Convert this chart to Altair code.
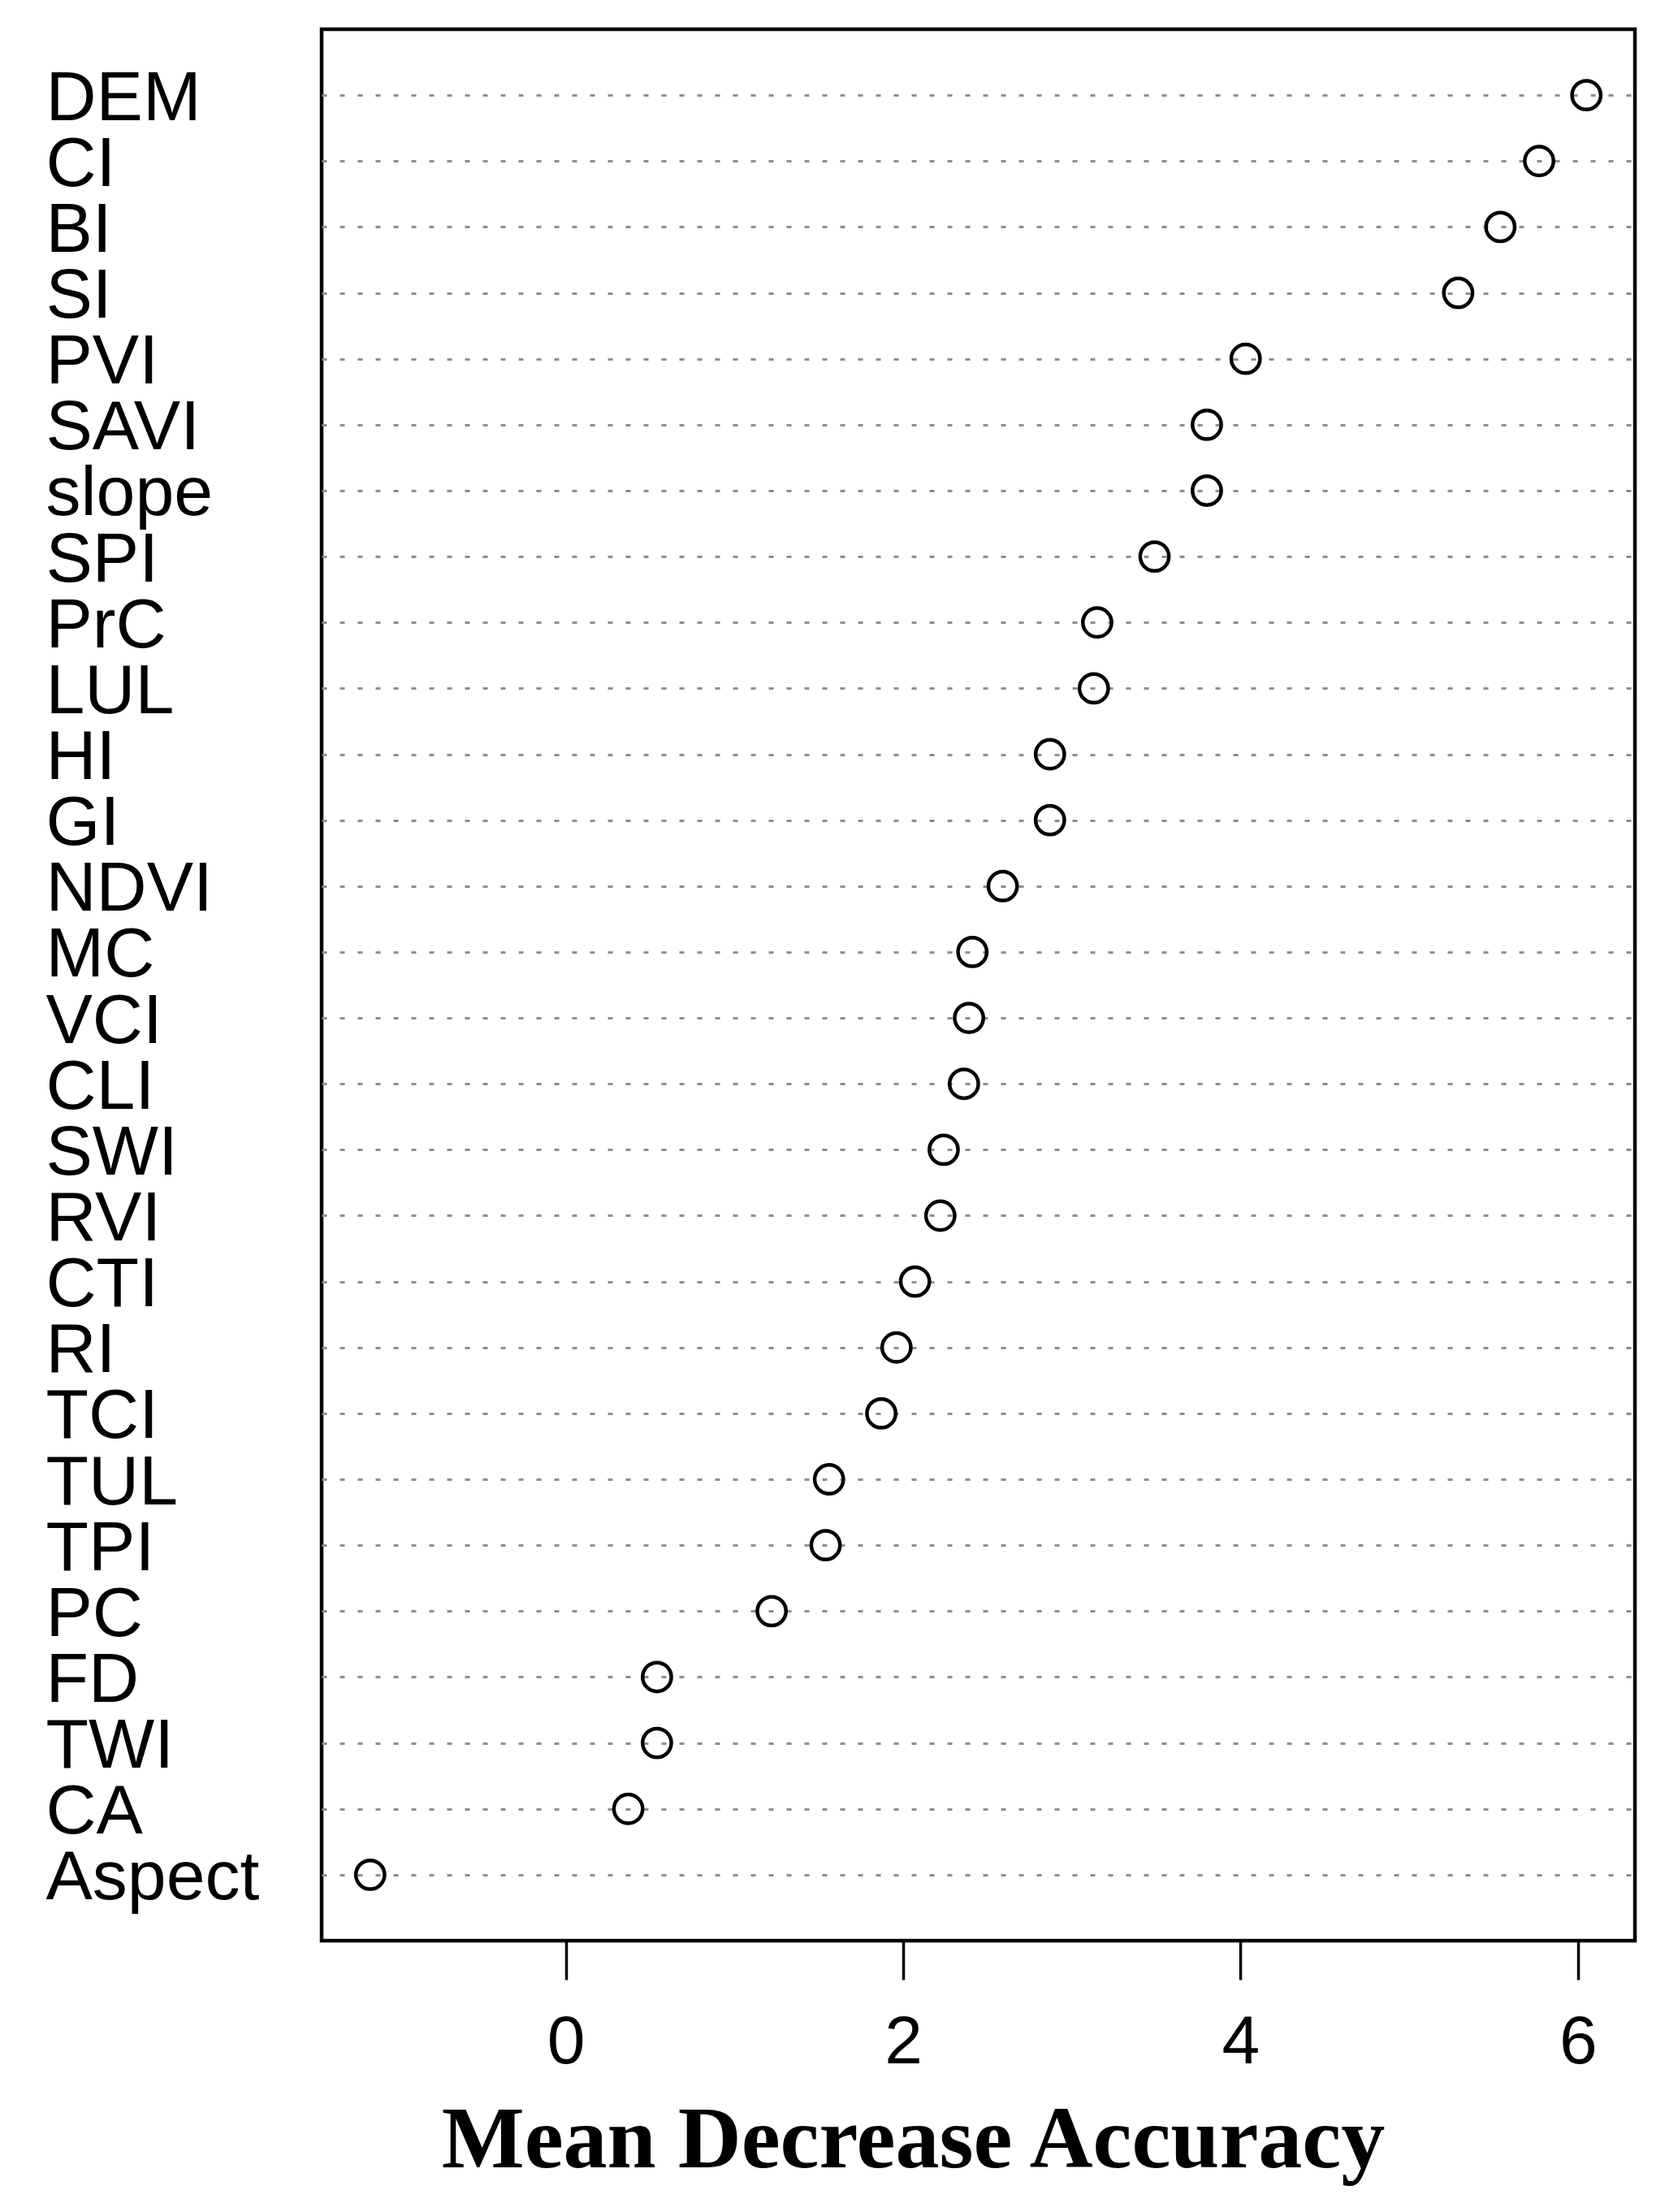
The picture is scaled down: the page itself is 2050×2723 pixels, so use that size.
import altair as alt
import pandas as pd

variables = ["DEM", "CI", "BI", "SI", "PVI", "SAVI", "slope", "SPI", "PrC", "LUL",
             "HI", "GI", "NDVI", "MC", "VCI", "CLI", "SWI", "RVI", "CTI", "RI",
             "TCI", "TUL", "TPI", "PC", "FD", "TWI", "CA", "Aspect"]
mda = [6.05, 5.77, 5.54, 5.29, 4.03, 3.80, 3.80, 3.49, 3.15, 3.13,
       2.87, 2.87, 2.59, 2.41, 2.39, 2.36, 2.24, 2.22, 2.07, 1.96,
       1.87, 1.56, 1.54, 1.22, 0.54, 0.54, 0.37, -1.16]
x_ticks = [0, 2, 4, 6]
x_domain = [-1.448, 6.338]

df = pd.DataFrame({"variable": variables, "mda": mda})

chart = alt.Chart(df).mark_point(
    shape="circle", filled=False, size=1250, strokeWidth=4.5, color="black", opacity=1
).encode(
    x=alt.X(
        "mda:Q",
        scale=alt.Scale(domain=x_domain, nice=False, zero=False),
        axis=alt.Axis(
            values=x_ticks, grid=False, domain=False, ticks=True,
            tickSize=48, tickWidth=3.5, tickColor="black",
            labelFont="Liberation Sans", labelFontSize=84, labelColor="black",
            labelPadding=36, labelFlush=False,
            title="Mean Decrease Accuracy",
            titleFont="Liberation Serif", titleFontWeight="bold", titleFontSize=108,
            titleColor="black", titleX=728, titleY=278, titleAlign="center",
            titleBaseline="alphabetic",
        ),
    ),
    y=alt.Y(
        "variable:N",
        sort=variables,
        scale=alt.Scale(type="point", padding=1),
        axis=alt.Axis(
            title=None, domain=False, ticks=False, tickSize=0,
            grid=True, gridDash=[6, 16], gridColor="#8f8f8f", gridWidth=3,
            labelAlign="left", labelPadding=340, labelLimit=1000,
            labelFont="Liberation Sans", labelFontSize=86, labelColor="black",
            labelBaseline="middle", labelOffset=4,
        ),
    ),
).properties(
    width=1617, height=2353, background="white",
    padding={"left": 48, "top": 28, "right": 20, "bottom": 10},
).configure_view(
    stroke="black", strokeWidth=4.5
)

chart.save("out.html", embed_options={"renderer": "svg", "actions": False})
